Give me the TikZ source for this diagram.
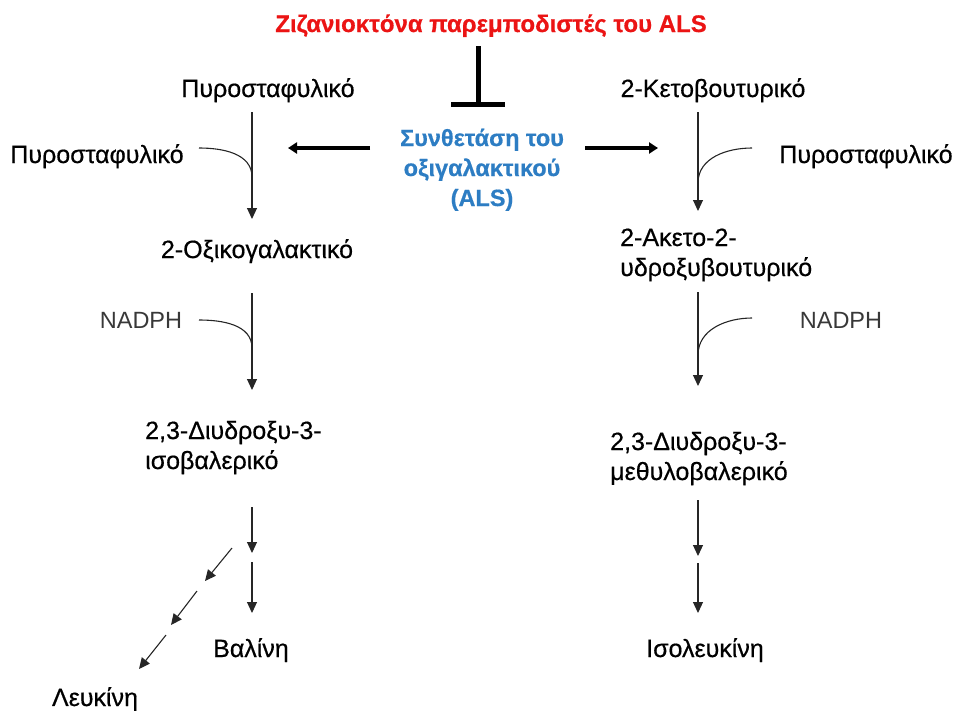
\documentclass[tikz,border=0pt]{standalone}
\usepackage{fontspec}
\setmainfont{Liberation Sans}
\newfontfamily\labfont[FakeBold=0.5]{Liberation Sans}
\newfontfamily\titlefont[FakeBold=0.6]{Liberation Sans Bold}
\usetikzlibrary{arrows.meta}
\definecolor{alsred}{RGB}{235,20,20}
\definecolor{alsblue}{RGB}{45,125,195}
\begin{document}
\begin{tikzpicture}[x=1pt,y=-1pt,
  lbl/.style={font=\labfont\fontsize{25}{30}\selectfont, inner sep=0pt, text=black, anchor=base},
  lblL/.style={lbl, align=left, anchor=base west},
  nad/.style={font=\fontsize{23.5}{26}\selectfont, inner sep=0pt, text=black!78, anchor=base},
  flow/.style={draw=black!85, line width=1.1pt, -{Triangle[length=11pt,width=10pt]}},
  side/.style={draw=black!85, line width=1.1pt},
  thick arrow/.style={draw=black, line width=3.2pt, -{Triangle[length=9pt,width=11pt]}},
]
\useasboundingbox (0,0) rectangle (956,710);

% title and inhibition
\node[font=\titlefont\fontsize{24}{28}\selectfont, text=alsred, inner sep=0pt, anchor=base] (title) at (491,32) {Ζιζανιοκτόνα παρεμποδιστές του ALS};
\coordinate (inhtop) at (478,46);
\coordinate (inhbot) at (478,104);
\draw[line width=5pt] (inhtop) -- (inhbot);
\draw[line width=5pt] (451,104) -- (505,104);

% ALS (base anchor = last line)
\node[font=\titlefont\fontsize{23.5}{30}\selectfont, text=alsblue, align=center, inner sep=0pt, anchor=base] (als) at (482,206) {Συνθετάση του\\οξιγαλακτικού\\(ALS)};

% left column labels
\node[lbl] (pyrL) at (268,97) {Πυροσταφυλικό};
\node[lbl] (pyrLs) at (97,163) {Πυροσταφυλικό};
\node[lbl] (oxL) at (257,258) {2-Οξικογαλακτικό};
\node[nad] (nadL) at (141,328) {NADPH};
\node[lblL] (dihL) at (145,469) {2,3-Διυδροξυ-3-\\ισοβαλερικό};
\node[lbl] (val) at (251,657) {Βαλίνη};
\node[lbl] (leu) at (95,706) {Λευκίνη};

% right column labels
\node[lbl] (ket) at (713,97) {2-Κετοβουτυρικό};
\node[lbl] (pyrR) at (866,163) {Πυροσταφυλικό};
\node[lblL] (acR) at (620,276) {2-Ακετο-2-\\υδροξυβουτυρικό};
\node[nad] (nadR) at (841,328) {NADPH};
\node[lblL] (dihR) at (610,480) {2,3-Διυδροξυ-3-\\μεθυλοβαλερικό};
\node[lbl] (ile) at (705,657) {Ισολευκίνη};

% thick arrows from ALS
\coordinate (tlS) at (370,148); \coordinate (tlE) at (288,148);
\coordinate (trS) at (585,148); \coordinate (trE) at (658,148);
\draw[thick arrow] (tlS) -- (tlE);
\draw[thick arrow] (trS) -- (trE);

% left pathway
\coordinate (l1s) at (252,112); \coordinate (l1e) at (252,219); \coordinate (l1j) at (252,177);
\draw[flow] (l1s) -- (l1e);
\coordinate (c1) at (199,148);
\draw[side] (c1) to[out=0,in=90] (l1j);

\coordinate (l2s) at (252,293); \coordinate (l2e) at (252,390); \coordinate (l2j) at (252,348);
\draw[flow] (l2s) -- (l2e);
\coordinate (c2) at (199,320);
\draw[side] (c2) to[out=0,in=90] (l2j);

\coordinate (l3s) at (252,507); \coordinate (l3e) at (252,553);
\coordinate (l4s) at (252,562); \coordinate (l4e) at (252,613);
\draw[flow] (l3s) -- (l3e);
\draw[flow] (l4s) -- (l4e);

\coordinate (d1s) at (232,548); \coordinate (d1e) at (205,581);
\coordinate (d2s) at (197,591); \coordinate (d2e) at (171,625);
\coordinate (d3s) at (166,635); \coordinate (d3e) at (139,669);
\draw[flow] (d1s) -- (d1e);
\draw[flow] (d2s) -- (d2e);
\draw[flow] (d3s) -- (d3e);

% right pathway
\coordinate (r1s) at (698,112); \coordinate (r1e) at (698,211); \coordinate (r1j) at (698,183);
\draw[flow] (r1s) -- (r1e);
\coordinate (c3) at (752,148);
\draw[side] (c3) to[out=180,in=90] (r1j);

\coordinate (r2s) at (698,292); \coordinate (r2e) at (698,386); \coordinate (r2j) at (698,355);
\draw[flow] (r2s) -- (r2e);
\coordinate (c4) at (752,318);
\draw[side] (c4) to[out=180,in=90] (r2j);

\coordinate (r3s) at (698,500); \coordinate (r3e) at (698,556);
\coordinate (r4s) at (698,563); \coordinate (r4e) at (698,613);
\draw[flow] (r3s) -- (r3e);
\draw[flow] (r4s) -- (r4e);
\end{tikzpicture}
\end{document}
